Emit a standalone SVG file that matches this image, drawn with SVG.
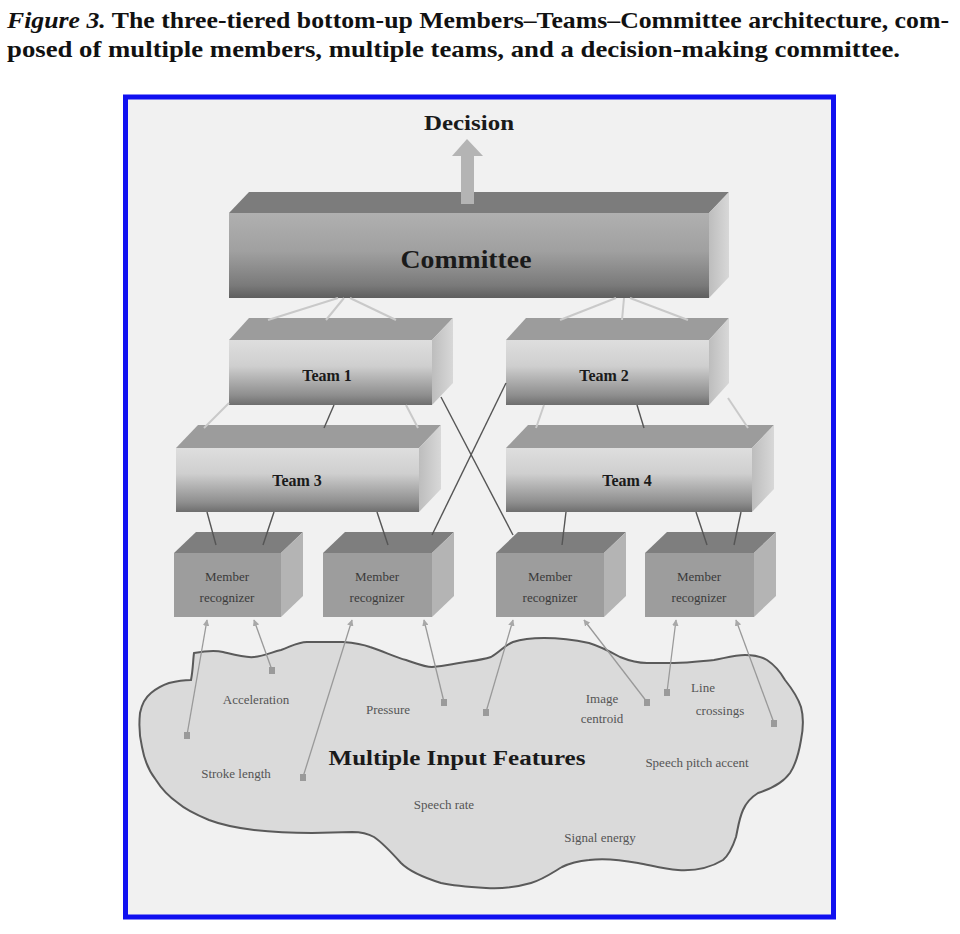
<svg xmlns="http://www.w3.org/2000/svg" width="960" height="934" viewBox="0 0 960 934">
<defs>
<style>
.cap{font-family:"Liberation Serif","DejaVu Serif",serif;font-size:23px;font-weight:bold;fill:#111}
.lbl{font-family:"Liberation Serif","DejaVu Serif",serif;font-weight:bold;fill:#1a1a1a;text-anchor:middle}
.mem{font-family:"Liberation Serif","DejaVu Serif",serif;font-size:13px;fill:#3a3a3a;text-anchor:middle}
.feat{font-family:"Liberation Serif","DejaVu Serif",serif;font-size:13px;fill:#555;text-anchor:middle}
.lt{stroke:#c9c9c9;stroke-width:2;fill:none}
.dk{stroke:#555;stroke-width:1.4;fill:none}
.fl{stroke:#999;stroke-width:1.3;fill:none}
.dot{fill:#9a9a9a}
</style>
<linearGradient id="gCom" x1="0" y1="0" x2="0" y2="1">
<stop offset="0" stop-color="#b0b0b0"/><stop offset="0.45" stop-color="#a0a0a0"/><stop offset="0.85" stop-color="#7a7a7a"/><stop offset="1" stop-color="#5e5e5e"/>
</linearGradient>
<linearGradient id="gTeam" x1="0" y1="0" x2="0" y2="1">
<stop offset="0" stop-color="#dedede"/><stop offset="0.4" stop-color="#cfcfcf"/><stop offset="0.85" stop-color="#8e8e8e"/><stop offset="1" stop-color="#6e6e6e"/>
</linearGradient>
<linearGradient id="gSide" x1="0" y1="0" x2="1" y2="0">
<stop offset="0" stop-color="#bdbdbd"/><stop offset="1" stop-color="#d8d8d8"/>
</linearGradient>
<marker id="ah" viewBox="0 0 10 10" refX="9" refY="5" markerWidth="5" markerHeight="5" orient="auto-start-reverse">
<path d="M0,0 L10,5 L0,10 z" fill="#a8a8a8"/>
</marker>
</defs>

<rect width="960" height="934" fill="#ffffff"/>

<g id="caption">
<text class="cap" x="7" y="28" textLength="942" lengthAdjust="spacingAndGlyphs"><tspan font-style="italic">Figure 3.</tspan>  The three-tiered bottom-up Members–Teams–Committee architecture, com-</text>
<text class="cap" x="7" y="57" textLength="893" lengthAdjust="spacingAndGlyphs">posed of multiple members, multiple teams, and a decision-making committee.</text>
</g>

<g id="frame">
<rect x="125.5" y="97" width="708" height="820" fill="#f1f1f1" stroke="#1010f0" stroke-width="5"/>
</g>

<g id="decision">
<text class="lbl" x="469" y="130" font-size="20" textLength="90" lengthAdjust="spacingAndGlyphs">Decision</text>
</g>

<g id="features">
<path d="M194,653 C205,651 215,650 223,652 C235,655 245,658 254,657 C265,656 272,652 281,650 C292,646 298,642 307,642 L343,642 C355,643 362,644 370,647 C385,652 395,657 406,660 C418,664 425,667 432,667 C445,666 452,664 459,663 C472,661 482,660 491,657 C500,652 505,645 513,642 C525,638 535,638 544,638 C560,638 575,640 589,643 C602,647 611,652 620,657 C630,661 640,663 647,663 L674,663 C690,663 702,661 714,660 C725,658 735,655 745,655 C755,655 762,657 767,660 C776,666 781,673 785,680 C793,690 798,698 801,707 C804,718 803,730 801,740 C799,752 796,764 790,773 C782,784 770,789 758,793 C750,798 746,803 743,810 C739,819 738,828 736,837 C733,846 730,854 723,860 C710,868 694,871 678,870 C663,869 650,865 638,863 C622,860 604,858 589,860 C578,861 570,863 562,867 C552,873 542,880 531,883 C517,887 500,889 486,888 C470,887 455,886 441,883 C425,878 410,872 401,863 C392,853 383,843 374,837 C367,833 360,832 352,832 L312,833 C292,833 272,832 254,830 C238,828 222,825 209,820 C197,815 186,810 178,803 C168,796 161,788 156,780 C148,770 144,758 142,747 C139,735 139,723 140,713 C142,703 146,697 151,693 C157,688 163,685 169,683 C177,681 185,680 191,680 C193,670 193,660 194,653 Z" fill="#dadada" stroke="#5a5a5a" stroke-width="2"/>
<text class="feat" x="256" y="704">Acceleration</text>
<text class="feat" x="388" y="714">Pressure</text>
<text class="feat" x="602" y="703">Image</text>
<text class="feat" x="602" y="723">centroid</text>
<text class="feat" x="703" y="692">Line</text>
<text class="feat" x="720" y="715">crossings</text>
<text class="lbl" x="457" y="765" font-size="20" textLength="257" lengthAdjust="spacingAndGlyphs">Multiple Input Features</text>
<text class="feat" x="236" y="778">Stroke length</text>
<text class="feat" x="697" y="767">Speech pitch accent</text>
<text class="feat" x="444" y="809">Speech rate</text>
<text class="feat" x="600" y="842">Signal energy</text>
</g>

<g id="committee">
<rect x="229" y="213" width="480" height="85" fill="url(#gCom)"/>
<polygon points="229,213 249,192 729,192 709,213" fill="#7c7c7c"/>
<polygon points="709,213 729,192 729,277 709,298" fill="url(#gSide)"/>
<text class="lbl" x="466" y="268" font-size="25" textLength="131" lengthAdjust="spacingAndGlyphs">Committee</text>
</g>

<g id="team1">
<rect x="229" y="340" width="203" height="65" fill="url(#gTeam)"/>
<polygon points="229,340 249,318 453,318 432,340" fill="#9c9c9c"/>
<polygon points="432,340 453,318 453,383 432,405" fill="url(#gSide)"/>
<text class="lbl" x="327" y="381" font-size="16">Team 1</text>
</g>
<g id="team2">
<rect x="506" y="340" width="203" height="65" fill="url(#gTeam)"/>
<polygon points="506,340 526,318 729,318 709,340" fill="#9c9c9c"/>
<polygon points="709,340 729,318 729,383 709,405" fill="url(#gSide)"/>
<text class="lbl" x="604" y="381" font-size="16">Team 2</text>
</g>
<g id="team3">
<rect x="176" y="448" width="243" height="64" fill="url(#gTeam)"/>
<polygon points="176,448 198,425 441,425 419,448" fill="#9c9c9c"/>
<polygon points="419,448 441,425 441,489 419,512" fill="url(#gSide)"/>
<text class="lbl" x="297" y="486" font-size="16">Team 3</text>
</g>
<g id="team4">
<rect x="506" y="448" width="246" height="64" fill="url(#gTeam)"/>
<polygon points="506,448 528,425 774,425 752,448" fill="#9c9c9c"/>
<polygon points="752,448 774,425 774,489 752,512" fill="url(#gSide)"/>
<text class="lbl" x="627" y="486" font-size="16">Team 4</text>
</g>

<g id="member1">
<rect x="174" y="553" width="107" height="64" fill="#9d9d9d"/>
<polygon points="174,553 196,532 303,532 281,553" fill="#7e7e7e"/>
<polygon points="281,553 303,532 303,596 281,617" fill="#b4b4b4"/>
<text class="mem" x="227" y="581">Member</text>
<text class="mem" x="227" y="602">recognizer</text>
</g>
<g id="member2">
<rect x="323" y="553" width="109" height="64" fill="#9d9d9d"/>
<polygon points="323,553 345,532 454,532 432,553" fill="#7e7e7e"/>
<polygon points="432,553 454,532 454,596 432,617" fill="#b4b4b4"/>
<text class="mem" x="377" y="581">Member</text>
<text class="mem" x="377" y="602">recognizer</text>
</g>
<g id="member3">
<rect x="496" y="553" width="108" height="64" fill="#9d9d9d"/>
<polygon points="496,553 518,532 626,532 604,553" fill="#7e7e7e"/>
<polygon points="604,553 626,532 626,596 604,617" fill="#b4b4b4"/>
<text class="mem" x="550" y="581">Member</text>
<text class="mem" x="550" y="602">recognizer</text>
</g>
<g id="member4">
<rect x="645" y="553" width="109" height="64" fill="#9d9d9d"/>
<polygon points="645,553 667,532 776,532 754,553" fill="#7e7e7e"/>
<polygon points="754,553 776,532 776,596 754,617" fill="#b4b4b4"/>
<text class="mem" x="699" y="581">Member</text>
<text class="mem" x="699" y="602">recognizer</text>
</g>

<g id="connectors">
<!-- decision arrow -->
<rect x="461" y="154" width="13" height="50" fill="#b4b4b4"/>
<polygon points="452,156 467,139 483,156" fill="#b4b4b4"/>
<!-- committee to teams -->
<line class="lt" x1="338" y1="298" x2="268" y2="320"/>
<line class="lt" x1="344" y1="298" x2="326" y2="320"/>
<line class="lt" x1="350" y1="298" x2="396" y2="320"/>
<line class="lt" x1="616" y1="298" x2="560" y2="320"/>
<line class="lt" x1="624" y1="298" x2="622" y2="320"/>
<line class="lt" x1="630" y1="298" x2="688" y2="320"/>
<!-- team1/team2 to team3/team4 -->
<line class="lt" x1="229" y1="403" x2="204" y2="428"/>
<line class="dk" x1="334" y1="405" x2="324" y2="428"/>
<line class="lt" x1="406" y1="405" x2="418" y2="428"/>
<line class="lt" x1="544" y1="405" x2="536" y2="428"/>
<line class="dk" x1="637" y1="405" x2="644" y2="428"/>
<line class="lt" x1="728" y1="398" x2="748" y2="428"/>
<!-- crossing lines -->
<line class="dk" x1="441" y1="397" x2="513" y2="535"/>
<line class="dk" x1="506" y1="383" x2="432" y2="535"/>
<!-- teams to members -->
<line class="dk" x1="207" y1="512" x2="216" y2="545"/>
<line class="dk" x1="274" y1="512" x2="263" y2="545"/>
<line class="dk" x1="377" y1="512" x2="388" y2="545"/>
<line class="dk" x1="566" y1="512" x2="562" y2="545"/>
<line class="dk" x1="696" y1="512" x2="707" y2="545"/>
<line class="dk" x1="741" y1="512" x2="734" y2="545"/>
<!-- features to members -->
<line class="fl" x1="187" y1="735" x2="207" y2="620" marker-end="url(#ah)"/>
<line class="fl" x1="272" y1="670" x2="254" y2="620" marker-end="url(#ah)"/>
<line class="fl" x1="303" y1="777" x2="352" y2="620" marker-end="url(#ah)"/>
<line class="fl" x1="444" y1="702" x2="424" y2="620" marker-end="url(#ah)"/>
<line class="fl" x1="486" y1="712" x2="513" y2="620" marker-end="url(#ah)"/>
<line class="fl" x1="647" y1="702" x2="584" y2="620" marker-end="url(#ah)"/>
<line class="fl" x1="667" y1="692" x2="676" y2="620" marker-end="url(#ah)"/>
<line class="fl" x1="774" y1="723" x2="736" y2="620" marker-end="url(#ah)"/>
<rect class="dot" x="184" y="732" width="6" height="7"/>
<rect class="dot" x="269" y="667" width="6" height="7"/>
<rect class="dot" x="300" y="774" width="6" height="7"/>
<rect class="dot" x="441" y="699" width="6" height="7"/>
<rect class="dot" x="483" y="709" width="6" height="7"/>
<rect class="dot" x="644" y="699" width="6" height="7"/>
<rect class="dot" x="664" y="689" width="6" height="7"/>
<rect class="dot" x="771" y="720" width="6" height="7"/>
</g>
</svg>
